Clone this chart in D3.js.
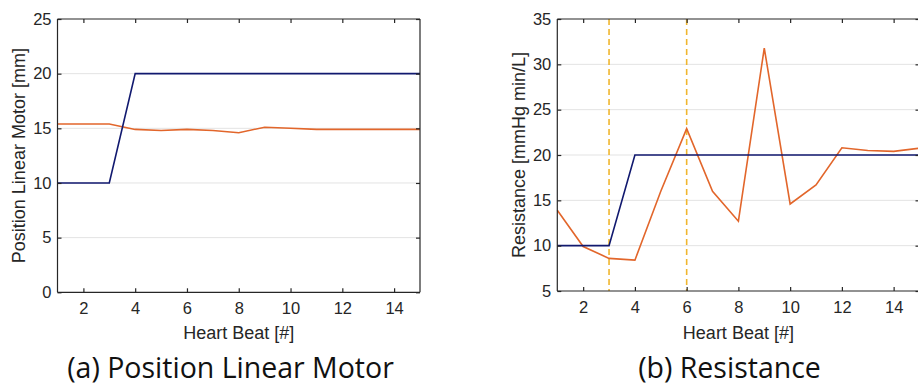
<!DOCTYPE html>
<html>
<head>
<meta charset="utf-8">
<script src="https://cdn.jsdelivr.net/npm/d3@7"></script>
<style>
  html, body { margin: 0; padding: 0; background: #fff; }
  svg { display: block; }
</style>
</head>
<body>
<svg id="fig" width="918" height="387"></svg>
<script>
// Heart beat index shared by both panels
const beats = [1, 2, 3, 4, 5, 6, 7, 8, 9, 10, 11, 12, 13, 14, 15];

// (a) linear motor position [mm]
const motorSetpoint = [10, 10, 10, 20, 20, 20, 20, 20, 20, 20, 20, 20, 20, 20, 20];
const motorMeasured = [15.4, 15.4, 15.4, 14.9, 14.8, 14.9, 14.8, 14.6, 15.1, 15.0, 14.9, 14.9, 14.9, 14.9, 14.9];

// (b) resistance [mmHg min/L]
const resistSetpoint = [10, 10, 10, 20, 20, 20, 20, 20, 20, 20, 20, 20, 20, 20, 20];
const resistMeasured = [13.9, 9.9, 8.6, 8.4, 16.0, 22.9, 16.0, 12.7, 31.8, 14.6, 16.7, 20.8, 20.5, 20.4, 20.75];
const resistMarkers = [3, 6];

// Tick values
const xTicks = [2, 4, 6, 8, 10, 12, 14];
const motorTicks = [0, 5, 10, 15, 20, 25];
const resistTicks = [5, 10, 15, 20, 25, 30, 35];

const C_SET = "#11196f";
const C_MEAS = "#e2662b";
const C_MARK = "#f0b62e";
const C_AXIS = "#262626";
const C_GRID = "#e3e3e3";
const TICK_FONT = "'Liberation Sans', Arial, sans-serif";
const CAP_FONT = "'Open Sans', 'Noto Sans', sans-serif";

const svg = d3.select("#fig");

function panel(opt) {
  const x = d3.scaleLinear().domain([1, 15]).range([opt.left, opt.right]);
  const y = d3.scaleLinear().domain(opt.yDomain).range([opt.bottom, opt.top]);
  const g = svg.append("g");

  // horizontal grid
  g.append("g").selectAll("line")
    .data(opt.yTicks.filter(v => v > opt.yDomain[0] && v < opt.yDomain[1]))
    .join("line")
    .attr("x1", opt.left).attr("x2", opt.right)
    .attr("y1", d => y(d)).attr("y2", d => y(d))
    .attr("stroke", C_GRID).attr("stroke-width", 1);

  // vertical dashed markers
  if (opt.markers) {
    g.append("g").selectAll("line")
      .data(opt.markers)
      .join("line")
      .attr("x1", d => x(d)).attr("x2", d => x(d))
      .attr("y1", opt.top).attr("y2", opt.bottom)
      .attr("stroke", C_MARK).attr("stroke-width", 1.6)
      .attr("stroke-dasharray", "6,4");
  }

  const line = d3.line().x((d, i) => x(beats[i])).y(d => y(d));
  g.append("path").datum(opt.measured).attr("d", line)
    .attr("fill", "none").attr("stroke", C_MEAS).attr("stroke-width", 1.6);
  g.append("path").datum(opt.setpoint).attr("d", line)
    .attr("fill", "none").attr("stroke", C_SET).attr("stroke-width", 1.6);

  // axes (box with inward ticks)
  const tick = 4;
  const bottom = g.append("g").attr("transform", `translate(0,${opt.bottom})`)
    .call(d3.axisBottom(x).tickValues(xTicks).tickSize(-tick).tickPadding(10));
  const top = g.append("g").attr("transform", `translate(0,${opt.top})`)
    .call(d3.axisTop(x).tickValues(xTicks).tickSize(-tick).tickFormat(""));
  const left = g.append("g").attr("transform", `translate(${opt.left},0)`)
    .call(d3.axisLeft(y).tickValues(opt.yTicks).tickSize(-tick).tickPadding(6));
  const right = g.append("g").attr("transform", `translate(${opt.right},0)`)
    .call(d3.axisRight(y).tickValues(opt.yTicks).tickSize(-tick).tickFormat(""));

  [bottom, top, left, right].forEach(a => {
    a.select(".domain").attr("stroke", C_AXIS).attr("stroke-width", 1.2);
    a.selectAll(".tick line").attr("stroke", C_AXIS).attr("stroke-width", 1.2);
    a.selectAll("text").attr("fill", C_AXIS)
      .style("font-family", TICK_FONT).style("font-size", "16.5px");
  });
  [bottom, top].forEach(a => a.select(".domain").attr("d",
    `M${opt.left},0H${opt.right}`));
  [left, right].forEach(a => a.select(".domain").attr("d",
    `M0,${opt.bottom}V${opt.top}`));

  // axis titles
  g.append("text")
    .attr("x", (opt.left + opt.right) / 2).attr("y", 338.5)
    .attr("text-anchor", "middle")
    .style("font-family", TICK_FONT).style("font-size", "18px")
    .attr("fill", C_AXIS).text("Heart Beat [#]");
  g.append("text")
    .attr("transform", `translate(${opt.yLabelX},${(opt.top + opt.bottom) / 2}) rotate(-90)`)
    .attr("text-anchor", "middle").attr("dy", "0.35em")
    .style("font-family", TICK_FONT).style("font-size", "18px")
    .attr("fill", C_AXIS).text(opt.yLabel);

  // caption
  g.append("text")
    .attr("x", opt.capX).attr("y", 378)
    .attr("text-anchor", "middle")
    .style("font-family", CAP_FONT).style("font-size", "28.5px")
    .attr("fill", "#111").text(opt.caption);
}

panel({
  left: 57.5, right: 420, top: 19, bottom: 292.3,
  yDomain: [0, 25], yTicks: motorTicks,
  setpoint: motorSetpoint, measured: motorMeasured,
  yLabel: "Position Linear Motor [mm]", yLabelX: 19,
  caption: "(a) Position Linear Motor", capX: 230.5
});

panel({
  left: 557.3, right: 919.5, top: 19, bottom: 291,
  yDomain: [5, 35], yTicks: resistTicks,
  setpoint: resistSetpoint, measured: resistMeasured, markers: resistMarkers,
  yLabel: "Resistance [mmHg min/L]", yLabelX: 519,
  caption: "(b) Resistance", capX: 729.5
});
</script>
</body>
</html>
